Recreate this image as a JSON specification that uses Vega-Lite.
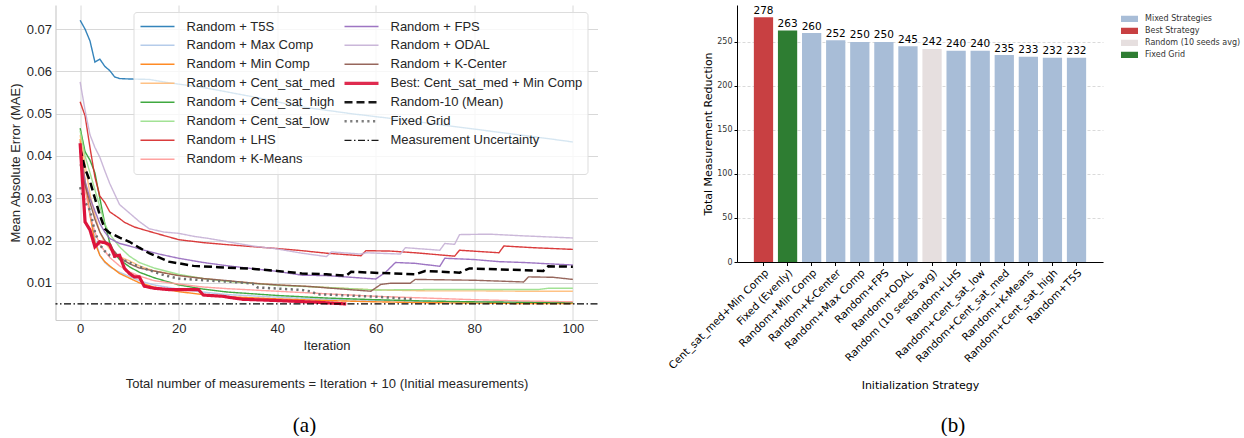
{
  "$schema": "https://vega.github.io/schema/vega-lite/v6.json",
  "padding": {"left": 8.5, "top": 5, "right": 0, "bottom": 0},
  "background": "white",
  "config": {"view": {"stroke": null}},
  "spacing": 67.5,
  "resolve": {
    "scale": {"color": "independent", "strokeDash": "independent", "strokeWidth": "independent", "x": "independent", "y": "independent"},
    "legend": {"color": "independent", "strokeDash": "independent", "strokeWidth": "independent"}
  },
  "datasets": {
    "curves": [
      {"s": "Random + T5S", "it": 0, "mae": 0.0721}, {"s": "Random + T5S", "it": 1, "mae": 0.0700}, {"s": "Random + T5S", "it": 2, "mae": 0.0672}, {"s": "Random + T5S", "it": 3, "mae": 0.0622}, {"s": "Random + T5S", "it": 4, "mae": 0.0629}, {"s": "Random + T5S", "it": 5, "mae": 0.0612}, {"s": "Random + T5S", "it": 6, "mae": 0.0602}, {"s": "Random + T5S", "it": 7, "mae": 0.0587}, {"s": "Random + T5S", "it": 8, "mae": 0.0583}, {"s": "Random + T5S", "it": 10, "mae": 0.0582}, {"s": "Random + T5S", "it": 14, "mae": 0.0581}, {"s": "Random + T5S", "it": 18, "mae": 0.0573}, {"s": "Random + T5S", "it": 25, "mae": 0.0562}, {"s": "Random + T5S", "it": 35, "mae": 0.0540}, {"s": "Random + T5S", "it": 45, "mae": 0.0516}, {"s": "Random + T5S", "it": 55, "mae": 0.0500}, {"s": "Random + T5S", "it": 65, "mae": 0.0486}, {"s": "Random + T5S", "it": 75, "mae": 0.0471}, {"s": "Random + T5S", "it": 85, "mae": 0.0456}, {"s": "Random + T5S", "it": 95, "mae": 0.0441}, {"s": "Random + T5S", "it": 100, "mae": 0.0433},

      {"s": "Random + Max Comp", "it": 0, "mae": 0.0435}, {"s": "Random + Max Comp", "it": 1, "mae": 0.034}, {"s": "Random + Max Comp", "it": 2, "mae": 0.027}, {"s": "Random + Max Comp", "it": 3, "mae": 0.0205}, {"s": "Random + Max Comp", "it": 4, "mae": 0.0165}, {"s": "Random + Max Comp", "it": 5, "mae": 0.0148}, {"s": "Random + Max Comp", "it": 6, "mae": 0.0138}, {"s": "Random + Max Comp", "it": 8, "mae": 0.0125}, {"s": "Random + Max Comp", "it": 10, "mae": 0.0115}, {"s": "Random + Max Comp", "it": 12, "mae": 0.0105}, {"s": "Random + Max Comp", "it": 15, "mae": 0.0095}, {"s": "Random + Max Comp", "it": 20, "mae": 0.0085}, {"s": "Random + Max Comp", "it": 25, "mae": 0.0078}, {"s": "Random + Max Comp", "it": 30, "mae": 0.0072}, {"s": "Random + Max Comp", "it": 40, "mae": 0.0066}, {"s": "Random + Max Comp", "it": 50, "mae": 0.0061}, {"s": "Random + Max Comp", "it": 60, "mae": 0.0058}, {"s": "Random + Max Comp", "it": 70, "mae": 0.0056}, {"s": "Random + Max Comp", "it": 80, "mae": 0.0055}, {"s": "Random + Max Comp", "it": 90, "mae": 0.0054}, {"s": "Random + Max Comp", "it": 100, "mae": 0.0053},

      {"s": "Random + Min Comp", "it": 0, "mae": 0.0440}, {"s": "Random + Min Comp", "it": 1, "mae": 0.034}, {"s": "Random + Min Comp", "it": 2, "mae": 0.026}, {"s": "Random + Min Comp", "it": 3, "mae": 0.0195}, {"s": "Random + Min Comp", "it": 4, "mae": 0.0165}, {"s": "Random + Min Comp", "it": 5, "mae": 0.0150}, {"s": "Random + Min Comp", "it": 6, "mae": 0.0140}, {"s": "Random + Min Comp", "it": 8, "mae": 0.0122}, {"s": "Random + Min Comp", "it": 10, "mae": 0.0111}, {"s": "Random + Min Comp", "it": 12, "mae": 0.0100}, {"s": "Random + Min Comp", "it": 15, "mae": 0.0090}, {"s": "Random + Min Comp", "it": 20, "mae": 0.0079}, {"s": "Random + Min Comp", "it": 25, "mae": 0.0072}, {"s": "Random + Min Comp", "it": 30, "mae": 0.0067}, {"s": "Random + Min Comp", "it": 40, "mae": 0.0062}, {"s": "Random + Min Comp", "it": 50, "mae": 0.0058}, {"s": "Random + Min Comp", "it": 60, "mae": 0.0055}, {"s": "Random + Min Comp", "it": 70, "mae": 0.0053}, {"s": "Random + Min Comp", "it": 80, "mae": 0.0052}, {"s": "Random + Min Comp", "it": 90, "mae": 0.0051}, {"s": "Random + Min Comp", "it": 100, "mae": 0.0051},

      {"s": "Random + Cent_sat_med", "it": 0, "mae": 0.0449}, {"s": "Random + Cent_sat_med", "it": 1, "mae": 0.038}, {"s": "Random + Cent_sat_med", "it": 2, "mae": 0.031}, {"s": "Random + Cent_sat_med", "it": 3, "mae": 0.026}, {"s": "Random + Cent_sat_med", "it": 4, "mae": 0.022}, {"s": "Random + Cent_sat_med", "it": 5, "mae": 0.0195}, {"s": "Random + Cent_sat_med", "it": 6, "mae": 0.018}, {"s": "Random + Cent_sat_med", "it": 8, "mae": 0.0162}, {"s": "Random + Cent_sat_med", "it": 10, "mae": 0.0152}, {"s": "Random + Cent_sat_med", "it": 12, "mae": 0.0140}, {"s": "Random + Cent_sat_med", "it": 15, "mae": 0.0128}, {"s": "Random + Cent_sat_med", "it": 20, "mae": 0.0118}, {"s": "Random + Cent_sat_med", "it": 25, "mae": 0.0110}, {"s": "Random + Cent_sat_med", "it": 30, "mae": 0.0104}, {"s": "Random + Cent_sat_med", "it": 40, "mae": 0.0095}, {"s": "Random + Cent_sat_med", "it": 50, "mae": 0.0089}, {"s": "Random + Cent_sat_med", "it": 60, "mae": 0.0083}, {"s": "Random + Cent_sat_med", "it": 70, "mae": 0.0081}, {"s": "Random + Cent_sat_med", "it": 80, "mae": 0.0081}, {"s": "Random + Cent_sat_med", "it": 90, "mae": 0.0080}, {"s": "Random + Cent_sat_med", "it": 100, "mae": 0.0080},

      {"s": "Random + Cent_sat_high", "it": 0, "mae": 0.0466}, {"s": "Random + Cent_sat_high", "it": 1, "mae": 0.041}, {"s": "Random + Cent_sat_high", "it": 2, "mae": 0.039}, {"s": "Random + Cent_sat_high", "it": 3, "mae": 0.036}, {"s": "Random + Cent_sat_high", "it": 4, "mae": 0.030}, {"s": "Random + Cent_sat_high", "it": 5, "mae": 0.024}, {"s": "Random + Cent_sat_high", "it": 6, "mae": 0.0195}, {"s": "Random + Cent_sat_high", "it": 7, "mae": 0.017}, {"s": "Random + Cent_sat_high", "it": 8, "mae": 0.0155}, {"s": "Random + Cent_sat_high", "it": 10, "mae": 0.0138}, {"s": "Random + Cent_sat_high", "it": 12, "mae": 0.0125}, {"s": "Random + Cent_sat_high", "it": 15, "mae": 0.0112}, {"s": "Random + Cent_sat_high", "it": 20, "mae": 0.0095}, {"s": "Random + Cent_sat_high", "it": 25, "mae": 0.0085}, {"s": "Random + Cent_sat_high", "it": 30, "mae": 0.0078}, {"s": "Random + Cent_sat_high", "it": 40, "mae": 0.0070}, {"s": "Random + Cent_sat_high", "it": 50, "mae": 0.0064}, {"s": "Random + Cent_sat_high", "it": 60, "mae": 0.0060}, {"s": "Random + Cent_sat_high", "it": 70, "mae": 0.0057}, {"s": "Random + Cent_sat_high", "it": 80, "mae": 0.0055}, {"s": "Random + Cent_sat_high", "it": 90, "mae": 0.0054}, {"s": "Random + Cent_sat_high", "it": 100, "mae": 0.0053},

      {"s": "Random + Cent_sat_low", "it": 0, "mae": 0.0460}, {"s": "Random + Cent_sat_low", "it": 1, "mae": 0.040}, {"s": "Random + Cent_sat_low", "it": 2, "mae": 0.036}, {"s": "Random + Cent_sat_low", "it": 3, "mae": 0.032}, {"s": "Random + Cent_sat_low", "it": 4, "mae": 0.028}, {"s": "Random + Cent_sat_low", "it": 5, "mae": 0.024}, {"s": "Random + Cent_sat_low", "it": 6, "mae": 0.0215}, {"s": "Random + Cent_sat_low", "it": 8, "mae": 0.0185}, {"s": "Random + Cent_sat_low", "it": 10, "mae": 0.0163}, {"s": "Random + Cent_sat_low", "it": 12, "mae": 0.0148}, {"s": "Random + Cent_sat_low", "it": 15, "mae": 0.0135}, {"s": "Random + Cent_sat_low", "it": 20, "mae": 0.0120}, {"s": "Random + Cent_sat_low", "it": 25, "mae": 0.0110}, {"s": "Random + Cent_sat_low", "it": 30, "mae": 0.0103}, {"s": "Random + Cent_sat_low", "it": 40, "mae": 0.0094}, {"s": "Random + Cent_sat_low", "it": 50, "mae": 0.0089}, {"s": "Random + Cent_sat_low", "it": 60, "mae": 0.0083}, {"s": "Random + Cent_sat_low", "it": 70, "mae": 0.0084}, {"s": "Random + Cent_sat_low", "it": 80, "mae": 0.0084}, {"s": "Random + Cent_sat_low", "it": 93, "mae": 0.0084}, {"s": "Random + Cent_sat_low", "it": 95, "mae": 0.0087}, {"s": "Random + Cent_sat_low", "it": 100, "mae": 0.0087},

      {"s": "Random + LHS", "it": 0, "mae": 0.0528}, {"s": "Random + LHS", "it": 1, "mae": 0.0495}, {"s": "Random + LHS", "it": 2, "mae": 0.042}, {"s": "Random + LHS", "it": 3, "mae": 0.035}, {"s": "Random + LHS", "it": 4, "mae": 0.0305}, {"s": "Random + LHS", "it": 5, "mae": 0.029}, {"s": "Random + LHS", "it": 6, "mae": 0.0268}, {"s": "Random + LHS", "it": 8, "mae": 0.0252}, {"s": "Random + LHS", "it": 9, "mae": 0.0243}, {"s": "Random + LHS", "it": 11, "mae": 0.0232}, {"s": "Random + LHS", "it": 13, "mae": 0.0225}, {"s": "Random + LHS", "it": 16, "mae": 0.0215}, {"s": "Random + LHS", "it": 20, "mae": 0.0202}, {"s": "Random + LHS", "it": 25, "mae": 0.0195}, {"s": "Random + LHS", "it": 30, "mae": 0.0190}, {"s": "Random + LHS", "it": 40, "mae": 0.0181}, {"s": "Random + LHS", "it": 45, "mae": 0.0176}, {"s": "Random + LHS", "it": 50, "mae": 0.0170}, {"s": "Random + LHS", "it": 57, "mae": 0.0164}, {"s": "Random + LHS", "it": 58, "mae": 0.0176}, {"s": "Random + LHS", "it": 63, "mae": 0.0175}, {"s": "Random + LHS", "it": 68, "mae": 0.0171}, {"s": "Random + LHS", "it": 76, "mae": 0.0163}, {"s": "Random + LHS", "it": 77, "mae": 0.0177}, {"s": "Random + LHS", "it": 85, "mae": 0.0171}, {"s": "Random + LHS", "it": 86, "mae": 0.0187}, {"s": "Random + LHS", "it": 92, "mae": 0.0183}, {"s": "Random + LHS", "it": 100, "mae": 0.0179},

      {"s": "Random + K-Means", "it": 0, "mae": 0.040}, {"s": "Random + K-Means", "it": 1, "mae": 0.032}, {"s": "Random + K-Means", "it": 2, "mae": 0.026}, {"s": "Random + K-Means", "it": 3, "mae": 0.022}, {"s": "Random + K-Means", "it": 4, "mae": 0.019}, {"s": "Random + K-Means", "it": 5, "mae": 0.0175}, {"s": "Random + K-Means", "it": 6, "mae": 0.0160}, {"s": "Random + K-Means", "it": 8, "mae": 0.0140}, {"s": "Random + K-Means", "it": 10, "mae": 0.0126}, {"s": "Random + K-Means", "it": 12, "mae": 0.0116}, {"s": "Random + K-Means", "it": 15, "mae": 0.0105}, {"s": "Random + K-Means", "it": 20, "mae": 0.0097}, {"s": "Random + K-Means", "it": 25, "mae": 0.0090}, {"s": "Random + K-Means", "it": 30, "mae": 0.0086}, {"s": "Random + K-Means", "it": 40, "mae": 0.0080}, {"s": "Random + K-Means", "it": 50, "mae": 0.0074}, {"s": "Random + K-Means", "it": 60, "mae": 0.0068}, {"s": "Random + K-Means", "it": 70, "mae": 0.0064}, {"s": "Random + K-Means", "it": 80, "mae": 0.0060}, {"s": "Random + K-Means", "it": 90, "mae": 0.0057}, {"s": "Random + K-Means", "it": 100, "mae": 0.0055},

      {"s": "Random + FPS", "it": 0, "mae": 0.0410}, {"s": "Random + FPS", "it": 1, "mae": 0.034}, {"s": "Random + FPS", "it": 2, "mae": 0.030}, {"s": "Random + FPS", "it": 3, "mae": 0.027}, {"s": "Random + FPS", "it": 4, "mae": 0.024}, {"s": "Random + FPS", "it": 5, "mae": 0.022}, {"s": "Random + FPS", "it": 6, "mae": 0.0205}, {"s": "Random + FPS", "it": 8, "mae": 0.0193}, {"s": "Random + FPS", "it": 10, "mae": 0.0187}, {"s": "Random + FPS", "it": 13, "mae": 0.0177}, {"s": "Random + FPS", "it": 16, "mae": 0.0168}, {"s": "Random + FPS", "it": 20, "mae": 0.0158}, {"s": "Random + FPS", "it": 25, "mae": 0.0148}, {"s": "Random + FPS", "it": 30, "mae": 0.0140}, {"s": "Random + FPS", "it": 40, "mae": 0.0127}, {"s": "Random + FPS", "it": 45, "mae": 0.0118}, {"s": "Random + FPS", "it": 50, "mae": 0.0117}, {"s": "Random + FPS", "it": 55, "mae": 0.0113}, {"s": "Random + FPS", "it": 60, "mae": 0.0109}, {"s": "Random + FPS", "it": 62, "mae": 0.0125}, {"s": "Random + FPS", "it": 64, "mae": 0.0148}, {"s": "Random + FPS", "it": 68, "mae": 0.0146}, {"s": "Random + FPS", "it": 73, "mae": 0.0139}, {"s": "Random + FPS", "it": 74, "mae": 0.0158}, {"s": "Random + FPS", "it": 80, "mae": 0.0155}, {"s": "Random + FPS", "it": 85, "mae": 0.0150}, {"s": "Random + FPS", "it": 90, "mae": 0.0148}, {"s": "Random + FPS", "it": 95, "mae": 0.0145}, {"s": "Random + FPS", "it": 100, "mae": 0.0142},

      {"s": "Random + ODAL", "it": 0, "mae": 0.0575}, {"s": "Random + ODAL", "it": 1, "mae": 0.0508}, {"s": "Random + ODAL", "it": 2, "mae": 0.045}, {"s": "Random + ODAL", "it": 3, "mae": 0.042}, {"s": "Random + ODAL", "it": 4, "mae": 0.0397}, {"s": "Random + ODAL", "it": 5, "mae": 0.0365}, {"s": "Random + ODAL", "it": 6, "mae": 0.0335}, {"s": "Random + ODAL", "it": 7, "mae": 0.031}, {"s": "Random + ODAL", "it": 8, "mae": 0.0285}, {"s": "Random + ODAL", "it": 9, "mae": 0.0275}, {"s": "Random + ODAL", "it": 10, "mae": 0.0265}, {"s": "Random + ODAL", "it": 12, "mae": 0.0245}, {"s": "Random + ODAL", "it": 14, "mae": 0.0228}, {"s": "Random + ODAL", "it": 17, "mae": 0.0220}, {"s": "Random + ODAL", "it": 20, "mae": 0.0217}, {"s": "Random + ODAL", "it": 23, "mae": 0.0210}, {"s": "Random + ODAL", "it": 26, "mae": 0.0205}, {"s": "Random + ODAL", "it": 30, "mae": 0.0197}, {"s": "Random + ODAL", "it": 35, "mae": 0.0187}, {"s": "Random + ODAL", "it": 40, "mae": 0.0180}, {"s": "Random + ODAL", "it": 45, "mae": 0.0170}, {"s": "Random + ODAL", "it": 50, "mae": 0.0162}, {"s": "Random + ODAL", "it": 51, "mae": 0.0173}, {"s": "Random + ODAL", "it": 57, "mae": 0.0168}, {"s": "Random + ODAL", "it": 58, "mae": 0.0171}, {"s": "Random + ODAL", "it": 65, "mae": 0.0168}, {"s": "Random + ODAL", "it": 66, "mae": 0.0183}, {"s": "Random + ODAL", "it": 73, "mae": 0.0177}, {"s": "Random + ODAL", "it": 74, "mae": 0.0193}, {"s": "Random + ODAL", "it": 76, "mae": 0.0191}, {"s": "Random + ODAL", "it": 77, "mae": 0.0214}, {"s": "Random + ODAL", "it": 83, "mae": 0.0215}, {"s": "Random + ODAL", "it": 90, "mae": 0.0211}, {"s": "Random + ODAL", "it": 100, "mae": 0.0206},

      {"s": "Random + K-Center", "it": 0, "mae": 0.0380}, {"s": "Random + K-Center", "it": 1, "mae": 0.033}, {"s": "Random + K-Center", "it": 2, "mae": 0.029}, {"s": "Random + K-Center", "it": 3, "mae": 0.025}, {"s": "Random + K-Center", "it": 4, "mae": 0.022}, {"s": "Random + K-Center", "it": 5, "mae": 0.020}, {"s": "Random + K-Center", "it": 6, "mae": 0.0185}, {"s": "Random + K-Center", "it": 7, "mae": 0.0174}, {"s": "Random + K-Center", "it": 8, "mae": 0.016}, {"s": "Random + K-Center", "it": 10, "mae": 0.0145}, {"s": "Random + K-Center", "it": 12, "mae": 0.0135}, {"s": "Random + K-Center", "it": 15, "mae": 0.0128}, {"s": "Random + K-Center", "it": 18, "mae": 0.0121}, {"s": "Random + K-Center", "it": 20, "mae": 0.0117}, {"s": "Random + K-Center", "it": 25, "mae": 0.0110}, {"s": "Random + K-Center", "it": 30, "mae": 0.0105}, {"s": "Random + K-Center", "it": 36, "mae": 0.0098}, {"s": "Random + K-Center", "it": 40, "mae": 0.0095}, {"s": "Random + K-Center", "it": 47, "mae": 0.0091}, {"s": "Random + K-Center", "it": 50, "mae": 0.0088}, {"s": "Random + K-Center", "it": 59, "mae": 0.0080}, {"s": "Random + K-Center", "it": 61, "mae": 0.0096}, {"s": "Random + K-Center", "it": 63, "mae": 0.0099}, {"s": "Random + K-Center", "it": 67, "mae": 0.0099}, {"s": "Random + K-Center", "it": 68, "mae": 0.0108}, {"s": "Random + K-Center", "it": 80, "mae": 0.0106}, {"s": "Random + K-Center", "it": 90, "mae": 0.0102}, {"s": "Random + K-Center", "it": 91, "mae": 0.0114}, {"s": "Random + K-Center", "it": 96, "mae": 0.0113}, {"s": "Random + K-Center", "it": 100, "mae": 0.0108},

      {"s": "Random-10 (Mean)", "it": 0, "mae": 0.0418}, {"s": "Random-10 (Mean)", "it": 1, "mae": 0.037}, {"s": "Random-10 (Mean)", "it": 2, "mae": 0.034}, {"s": "Random-10 (Mean)", "it": 3, "mae": 0.030}, {"s": "Random-10 (Mean)", "it": 4, "mae": 0.026}, {"s": "Random-10 (Mean)", "it": 5, "mae": 0.0228}, {"s": "Random-10 (Mean)", "it": 6, "mae": 0.0218}, {"s": "Random-10 (Mean)", "it": 7, "mae": 0.0213}, {"s": "Random-10 (Mean)", "it": 8, "mae": 0.0207}, {"s": "Random-10 (Mean)", "it": 10, "mae": 0.0197}, {"s": "Random-10 (Mean)", "it": 12, "mae": 0.0183}, {"s": "Random-10 (Mean)", "it": 14, "mae": 0.0170}, {"s": "Random-10 (Mean)", "it": 16, "mae": 0.0160}, {"s": "Random-10 (Mean)", "it": 18, "mae": 0.0150}, {"s": "Random-10 (Mean)", "it": 20, "mae": 0.0146}, {"s": "Random-10 (Mean)", "it": 23, "mae": 0.0140}, {"s": "Random-10 (Mean)", "it": 28, "mae": 0.0137}, {"s": "Random-10 (Mean)", "it": 35, "mae": 0.0133}, {"s": "Random-10 (Mean)", "it": 40, "mae": 0.0128}, {"s": "Random-10 (Mean)", "it": 45, "mae": 0.0122}, {"s": "Random-10 (Mean)", "it": 50, "mae": 0.0120}, {"s": "Random-10 (Mean)", "it": 54, "mae": 0.0117}, {"s": "Random-10 (Mean)", "it": 55, "mae": 0.0126}, {"s": "Random-10 (Mean)", "it": 68, "mae": 0.0120}, {"s": "Random-10 (Mean)", "it": 70, "mae": 0.0128}, {"s": "Random-10 (Mean)", "it": 77, "mae": 0.0124}, {"s": "Random-10 (Mean)", "it": 79, "mae": 0.0134}, {"s": "Random-10 (Mean)", "it": 90, "mae": 0.0130}, {"s": "Random-10 (Mean)", "it": 94, "mae": 0.0128}, {"s": "Random-10 (Mean)", "it": 95, "mae": 0.0139}, {"s": "Random-10 (Mean)", "it": 100, "mae": 0.0138},

      {"s": "Fixed Grid", "it": 0, "mae": 0.0326}, {"s": "Fixed Grid", "it": 1, "mae": 0.029}, {"s": "Fixed Grid", "it": 2, "mae": 0.0272}, {"s": "Fixed Grid", "it": 3, "mae": 0.022}, {"s": "Fixed Grid", "it": 4, "mae": 0.019}, {"s": "Fixed Grid", "it": 5, "mae": 0.0175}, {"s": "Fixed Grid", "it": 6, "mae": 0.0165}, {"s": "Fixed Grid", "it": 8, "mae": 0.0158}, {"s": "Fixed Grid", "it": 10, "mae": 0.0148}, {"s": "Fixed Grid", "it": 12, "mae": 0.0138}, {"s": "Fixed Grid", "it": 14, "mae": 0.0130}, {"s": "Fixed Grid", "it": 17, "mae": 0.0118}, {"s": "Fixed Grid", "it": 20, "mae": 0.0110}, {"s": "Fixed Grid", "it": 25, "mae": 0.0106}, {"s": "Fixed Grid", "it": 31, "mae": 0.0102}, {"s": "Fixed Grid", "it": 35, "mae": 0.0098}, {"s": "Fixed Grid", "it": 36, "mae": 0.0089}, {"s": "Fixed Grid", "it": 45, "mae": 0.0083}, {"s": "Fixed Grid", "it": 47, "mae": 0.0079}, {"s": "Fixed Grid", "it": 48, "mae": 0.0073}, {"s": "Fixed Grid", "it": 60, "mae": 0.0067}, {"s": "Fixed Grid", "it": 68, "mae": 0.0061},

      {"s": "Best: Cent_sat_med + Min Comp", "it": 0, "mae": 0.0430}, {"s": "Best: Cent_sat_med + Min Comp", "it": 1, "mae": 0.0244}, {"s": "Best: Cent_sat_med + Min Comp", "it": 2, "mae": 0.0225}, {"s": "Best: Cent_sat_med + Min Comp", "it": 3, "mae": 0.0185}, {"s": "Best: Cent_sat_med + Min Comp", "it": 4, "mae": 0.0197}, {"s": "Best: Cent_sat_med + Min Comp", "it": 5, "mae": 0.0195}, {"s": "Best: Cent_sat_med + Min Comp", "it": 6, "mae": 0.0190}, {"s": "Best: Cent_sat_med + Min Comp", "it": 7, "mae": 0.0163}, {"s": "Best: Cent_sat_med + Min Comp", "it": 8, "mae": 0.0165}, {"s": "Best: Cent_sat_med + Min Comp", "it": 9, "mae": 0.0134}, {"s": "Best: Cent_sat_med + Min Comp", "it": 10, "mae": 0.0122}, {"s": "Best: Cent_sat_med + Min Comp", "it": 11, "mae": 0.0114}, {"s": "Best: Cent_sat_med + Min Comp", "it": 12, "mae": 0.0114}, {"s": "Best: Cent_sat_med + Min Comp", "it": 13, "mae": 0.0092}, {"s": "Best: Cent_sat_med + Min Comp", "it": 15, "mae": 0.0087}, {"s": "Best: Cent_sat_med + Min Comp", "it": 18, "mae": 0.0084}, {"s": "Best: Cent_sat_med + Min Comp", "it": 24, "mae": 0.0084}, {"s": "Best: Cent_sat_med + Min Comp", "it": 25, "mae": 0.0071}, {"s": "Best: Cent_sat_med + Min Comp", "it": 29, "mae": 0.0068}, {"s": "Best: Cent_sat_med + Min Comp", "it": 30, "mae": 0.0066}, {"s": "Best: Cent_sat_med + Min Comp", "it": 33, "mae": 0.0061}, {"s": "Best: Cent_sat_med + Min Comp", "it": 40, "mae": 0.0058}, {"s": "Best: Cent_sat_med + Min Comp", "it": 48, "mae": 0.0054}, {"s": "Best: Cent_sat_med + Min Comp", "it": 54, "mae": 0.0050}
    ],
    "uncert": [{"s": "Measurement Uncertainty", "mae": 0.005}],
    "bars": [
      {"strategy": "Cent_sat_med+Min Comp", "reduction": 278, "group": "Best Strategy"},
      {"strategy": "Fixed (Evenly)", "reduction": 263, "group": "Fixed Grid"},
      {"strategy": "Random+Min Comp", "reduction": 260, "group": "Mixed Strategies"},
      {"strategy": "Random+K-Center", "reduction": 252, "group": "Mixed Strategies"},
      {"strategy": "Random+Max Comp", "reduction": 250, "group": "Mixed Strategies"},
      {"strategy": "Random+FPS", "reduction": 250, "group": "Mixed Strategies"},
      {"strategy": "Random+ODAL", "reduction": 245, "group": "Mixed Strategies"},
      {"strategy": "Random (10 seeds avg)", "reduction": 242, "group": "Random (10 seeds avg)"},
      {"strategy": "Random+LHS", "reduction": 240, "group": "Mixed Strategies"},
      {"strategy": "Random+Cent_sat_low", "reduction": 240, "group": "Mixed Strategies"},
      {"strategy": "Random+Cent_sat_med", "reduction": 235, "group": "Mixed Strategies"},
      {"strategy": "Random+K-Means", "reduction": 233, "group": "Mixed Strategies"},
      {"strategy": "Random+Cent_sat_high", "reduction": 232, "group": "Mixed Strategies"},
      {"strategy": "Random+T5S", "reduction": 232, "group": "Mixed Strategies"}
    ]
  },
  "hconcat": [
    {
      "width": 542,
      "height": 315,
      "title": {"text": "(a)", "orient": "bottom", "anchor": "middle", "frame": "group", "dx": -22, "offset": 25, "font": "Liberation Serif", "fontSize": 21, "fontWeight": "normal", "color": "#000000"},
      "encoding": {
        "y": {"field": "mae", "type": "quantitative",
          "scale": {"domain": [0.0012, 0.0757], "nice": false, "zero": false},
          "axis": {"title": "Mean Absolute Error (MAE)", "values": [0.01, 0.02, 0.03, 0.04, 0.05, 0.06, 0.07], "format": ".2f",
            "labelFont": "Liberation Sans", "labelFontSize": 13, "labelColor": "#262626", "labelPadding": 4,
            "titleFont": "Liberation Sans", "titleFontSize": 13, "titleFontWeight": "normal", "titleColor": "#262626", "titlePadding": 4,
            "ticks": false, "domainColor": "#cccccc", "domainWidth": 1.2, "gridColor": "#d8d8d8", "gridWidth": 1}},
        "color": {"field": "s", "type": "nominal",
          "scale": {"domain": ["Random + T5S", "Random + Max Comp", "Random + Min Comp", "Random + Cent_sat_med", "Random + Cent_sat_high", "Random + Cent_sat_low", "Random + LHS", "Random + K-Means", "Random + FPS", "Random + ODAL", "Random + K-Center", "Best: Cent_sat_med + Min Comp", "Random-10 (Mean)", "Fixed Grid", "Measurement Uncertainty"],
            "range": ["#1f77b4", "#aec7e8", "#ff7f0e", "#ffbb78", "#2ca02c", "#98df8a", "#d62728", "#ff9896", "#9467bd", "#c5b0d5", "#8c564b", "#dc143c", "#000000", "#707070", "#000000"]},
          "legend": {"orient": "none", "legendX": 78, "legendY": 7, "title": null, "columns": 2, "columnPadding": 7, "rowPadding": 0, "clipHeight": 18.6,
            "symbolType": "stroke", "symbolSize": 1156, "labelOffset": 10, "labelFont": "Liberation Sans", "labelFontSize": 13, "labelColor": "#262626", "labelLimit": 300,
            "padding": 5, "fillColor": "rgba(255,255,255,0.8)", "strokeColor": "#dddddd", "cornerRadius": 3}},
        "strokeDash": {"field": "s", "type": "nominal",
          "scale": {"domain": ["Random + T5S", "Random + Max Comp", "Random + Min Comp", "Random + Cent_sat_med", "Random + Cent_sat_high", "Random + Cent_sat_low", "Random + LHS", "Random + K-Means", "Random + FPS", "Random + ODAL", "Random + K-Center", "Best: Cent_sat_med + Min Comp", "Random-10 (Mean)", "Fixed Grid", "Measurement Uncertainty"],
            "range": [[1, 0], [1, 0], [1, 0], [1, 0], [1, 0], [1, 0], [1, 0], [1, 0], [1, 0], [1, 0], [1, 0], [1, 0], [8, 4], [2.2, 3.5], [7, 2.5, 1.5, 2.5]]}},
        "strokeWidth": {"field": "s", "type": "nominal",
          "scale": {"type": "ordinal", "domain": ["Random + T5S", "Random + Max Comp", "Random + Min Comp", "Random + Cent_sat_med", "Random + Cent_sat_high", "Random + Cent_sat_low", "Random + LHS", "Random + K-Means", "Random + FPS", "Random + ODAL", "Random + K-Center", "Best: Cent_sat_med + Min Comp", "Random-10 (Mean)", "Fixed Grid", "Measurement Uncertainty"],
            "range": [1.4, 1.4, 1.4, 1.4, 1.4, 1.4, 1.4, 1.4, 1.4, 1.4, 1.4, 3.2, 2.5, 2.5, 1.3]}}
      },
      "layer": [
        {
          "data": {"name": "curves"},
          "transform": [{"filter": {"not": {"field": "s", "oneOf": ["Random-10 (Mean)", "Fixed Grid", "Best: Cent_sat_med + Min Comp"]}}}],
          "mark": {"type": "line", "opacity": 0.9},
          "encoding": {"x": {"field": "it", "type": "quantitative", "scale": {"domain": [-5, 105], "nice": false, "zero": false},
            "axis": {"title": ["Iteration", "Total number of measurements = Iteration + 10 (Initial measurements)"], "values": [0, 20, 40, 60, 80, 100],
              "labelFont": "Liberation Sans", "labelFontSize": 13, "labelColor": "#262626", "labelPadding": 2,
              "titleFont": "Liberation Sans", "titleFontSize": 13, "titleFontWeight": "normal", "titleColor": "#262626", "titlePadding": 4, "titleLineHeight": 38,
              "ticks": false, "domainColor": "#cccccc", "domainWidth": 1.2, "gridColor": "#d8d8d8", "gridWidth": 1}}}
        },
        {
          "data": {"name": "curves"},
          "transform": [{"filter": {"field": "s", "oneOf": ["Random-10 (Mean)", "Fixed Grid"]}}],
          "mark": {"type": "line"},
          "encoding": {"x": {"field": "it", "type": "quantitative"}}
        },
        {
          "data": {"name": "curves"},
          "transform": [{"filter": {"field": "s", "equal": "Best: Cent_sat_med + Min Comp"}}],
          "mark": {"type": "line"},
          "encoding": {"x": {"field": "it", "type": "quantitative"}}
        },
        {
          "data": {"name": "uncert"},
          "mark": {"type": "rule"},
          "encoding": {}
        }
      ]
    },
    {
      "width": 366,
      "height": 257,
      "data": {"name": "bars"},
      "title": {"text": "(b)", "orient": "bottom", "anchor": "middle", "frame": "group", "dx": 33, "offset": 24, "font": "Liberation Serif", "fontSize": 21, "fontWeight": "normal", "color": "#000000"},
      "encoding": {
        "x": {"field": "strategy", "type": "nominal", "sort": null,
          "scale": {"paddingInner": 0.2, "paddingOuter": 0.7},
          "axis": {"title": "Initialization Strategy", "labelAngle": -45, "labelAlign": "right", "labelBaseline": "top",
            "labelFont": "DejaVu Sans", "labelFontSize": 10.5, "labelColor": "#000000", "labelPadding": 2, "labelLimit": 300,
            "tickSize": 3.5, "tickColor": "#000000", "domainColor": "#000000", "domainWidth": 1,
            "titleFont": "DejaVu Sans", "titleFontSize": 11, "titleFontWeight": "normal", "titleColor": "#000000", "titlePadding": 9, "grid": false}},
        "y": {"field": "reduction", "type": "quantitative",
          "scale": {"domain": [0, 291.9], "nice": false},
          "axis": {"title": "Total Measurement Reduction", "values": [0, 50, 100, 150, 200, 250],
            "labelFont": "DejaVu Sans", "labelFontSize": 8, "labelColor": "#333333", "labelPadding": 2,
            "tickSize": 3, "tickColor": "#000000", "domainColor": "#000000", "domainWidth": 1,
            "titleFont": "DejaVu Sans", "titleFontSize": 11, "titleFontWeight": "normal", "titleColor": "#000000", "titlePadding": 3,
            "grid": true, "gridColor": "#d0d0d0", "gridDash": [3, 2], "gridWidth": 0.8}}
      },
      "layer": [
        {
          "mark": {"type": "bar"},
          "encoding": {
            "color": {"field": "group", "type": "nominal",
              "scale": {"domain": ["Mixed Strategies", "Best Strategy", "Random (10 seeds avg)", "Fixed Grid"], "range": ["#a8bdd7", "#c84042", "#e6dfdf", "#2e7d32"]},
              "legend": {"orient": "none", "legendX": 384, "legendY": 8, "title": null, "clipHeight": 11.8, "rowPadding": 0,
                "symbolType": "M-1,-0.36H1V0.36H-1Z", "symbolSize": 289, "symbolStrokeWidth": 0, "symbolOpacity": 1,
                "labelFont": "DejaVu Sans", "labelFontSize": 8, "labelColor": "#333333", "labelOffset": 7, "labelLimit": 300}}
          }
        },
        {
          "mark": {"type": "text", "baseline": "bottom", "dy": -1.5, "font": "DejaVu Sans", "fontSize": 10.5, "color": "#000000"},
          "encoding": {"text": {"field": "reduction", "type": "quantitative"}}
        }
      ]
    }
  ]
}
